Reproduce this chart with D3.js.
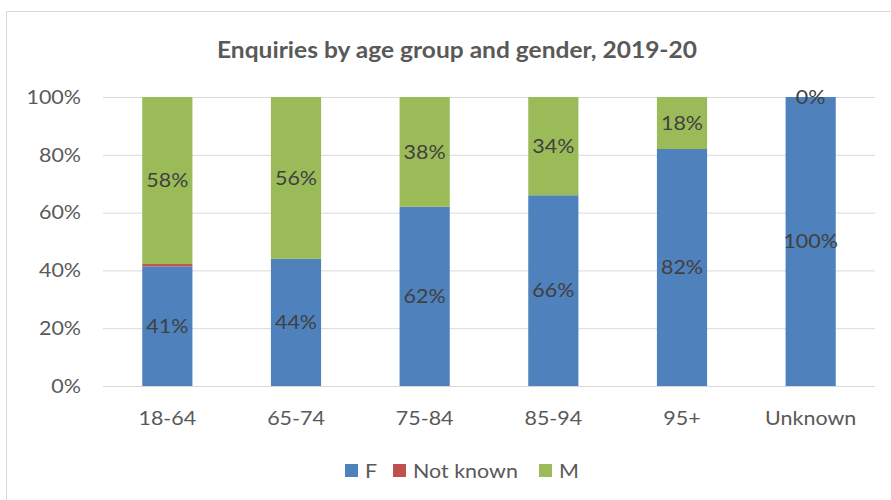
<!DOCTYPE html>
<html>
<head>
<meta charset="utf-8">
<script src="https://cdn.jsdelivr.net/npm/d3@7"></script>
<style>
  html, body { margin: 0; padding: 0; background: #fff; }
  svg { display: block; font-family: Lato, "Open Sans", sans-serif; }
</style>
</head>
<body>
<svg id="chart" width="891" height="500"></svg>
<script>
// Enquiries by age group and gender, 2019-20 (share of enquiries, %)
const categories = ["18-64", "65-74", "75-84", "85-94", "95+", "Unknown"];
const seriesNames = ["F", "Not known", "M"];
const valuesF = [41.4, 44, 62, 66, 82, 100];
const valuesNotKnown = [0.8, 0, 0, 0, 0, 0];
const valuesM = [57.8, 56, 38, 34, 18, 0];
const yTicks = [0, 20, 40, 60, 80, 100];
const seriesColors = ["#4f81bd", "#c0504d", "#9bbb59"];
const labelledSeries = ["F", "M"];

const rows = categories.map((c, i) => ({
  category: c,
  "F": valuesF[i],
  "Not known": valuesNotKnown[i],
  "M": valuesM[i]
}));

const FONT_SIZE = 19.5;
const WIDEN = 1.1;

// stretch text glyphs slightly wider than the font's natural width
function widen(sel, factor = WIDEN) {
  sel.each(function () {
    const w = this.getComputedTextLength();
    d3.select(this).attr("textLength", w * factor).attr("lengthAdjust", "spacingAndGlyphs");
  });
}

const svg = d3.select("#chart");
const plot = { left: 103, right: 875, top: 97, bottom: 386 };

// outer chart frame
svg.append("rect")
  .attr("x", 6.5).attr("y", 11.5)
  .attr("width", 920).attr("height", 520)
  .attr("fill", "#fff").attr("stroke", "#d9d9d9").attr("stroke-width", 1);

const x = d3.scaleBand().domain(categories).range([plot.left, plot.right]).paddingInner(0.61).paddingOuter(0.305);
const y = d3.scaleLinear().domain([0, 100]).range([plot.bottom, plot.top]);
const color = d3.scaleOrdinal().domain(seriesNames).range(seriesColors);

// title
svg.append("text")
  .attr("x", 457).attr("y", 58)
  .attr("text-anchor", "middle")
  .attr("font-size", 22).attr("font-weight", "bold")
  .attr("fill", "#595959")
  .text("Enquiries by age group and gender, 2019-20")
  .attr("textLength", 480).attr("lengthAdjust", "spacingAndGlyphs");

// gridlines + y axis labels
const yAxis = d3.axisLeft(y).tickValues(yTicks).tickSize(-(plot.right - plot.left))
  .tickFormat(d => d + "%").tickPadding(22);
const gy = svg.append("g").attr("transform", `translate(${plot.left},0)`).call(yAxis);
gy.select(".domain").remove();
gy.selectAll(".tick line").attr("stroke", "#d9d9d9").attr("stroke-width", 1);
gy.selectAll(".tick text").attr("fill", "#595959").attr("font-size", FONT_SIZE).attr("font-family", "Lato, sans-serif")
  .call(widen);

// stacked bars
const stack = d3.stack().keys(seriesNames);
const layers = stack(rows);

const gBars = svg.append("g");
layers.forEach(layer => {
  gBars.append("g").attr("fill", color(layer.key))
    .selectAll("rect").data(layer).join("rect")
    .attr("x", d => x(d.data.category))
    .attr("width", x.bandwidth())
    .attr("y", d => y(d[1]))
    .attr("height", d => y(d[0]) - y(d[1]));
});

// x axis labels
const xAxis = d3.axisBottom(x).tickSize(0).tickPadding(25);
const gx = svg.append("g").attr("transform", `translate(0,${plot.bottom})`).call(xAxis);
gx.select(".domain").remove();
gx.selectAll(".tick text").attr("fill", "#595959").attr("font-size", FONT_SIZE).attr("font-family", "Lato, sans-serif")
  .call(widen);

// baseline
svg.append("line")
  .attr("x1", plot.left).attr("x2", plot.right)
  .attr("y1", y(0) + 0.5).attr("y2", y(0) + 0.5)
  .attr("stroke", "#d9d9d9");

// data labels
const gLabels = svg.append("g");
layers.filter(l => labelledSeries.includes(l.key)).forEach(layer => {
  gLabels.selectAll(null).data(layer).join("text")
    .attr("x", d => x(d.data.category) + x.bandwidth() / 2)
    .attr("y", d => (y(d[0]) + y(d[1])) / 2)
    .attr("dy", "0.35em")
    .attr("text-anchor", "middle")
    .attr("font-size", FONT_SIZE)
    .attr("fill", "#404040")
    .text(d => Math.round(d.data[layer.key]) + "%")
    .call(widen);
});

// legend
const legendItems = [
  { key: "F", x: 345 },
  { key: "Not known", x: 393 },
  { key: "M", x: 539 }
];
const gLeg = svg.append("g");
legendItems.forEach(it => {
  gLeg.append("rect").attr("x", it.x).attr("y", 464).attr("width", 13).attr("height", 13).attr("fill", color(it.key));
  gLeg.append("text").attr("x", it.x + 20).attr("y", 471).attr("dy", "0.36em")
    .attr("font-size", FONT_SIZE).attr("fill", "#595959").text(it.key)
    .call(widen);
});
</script>
</body>
</html>
